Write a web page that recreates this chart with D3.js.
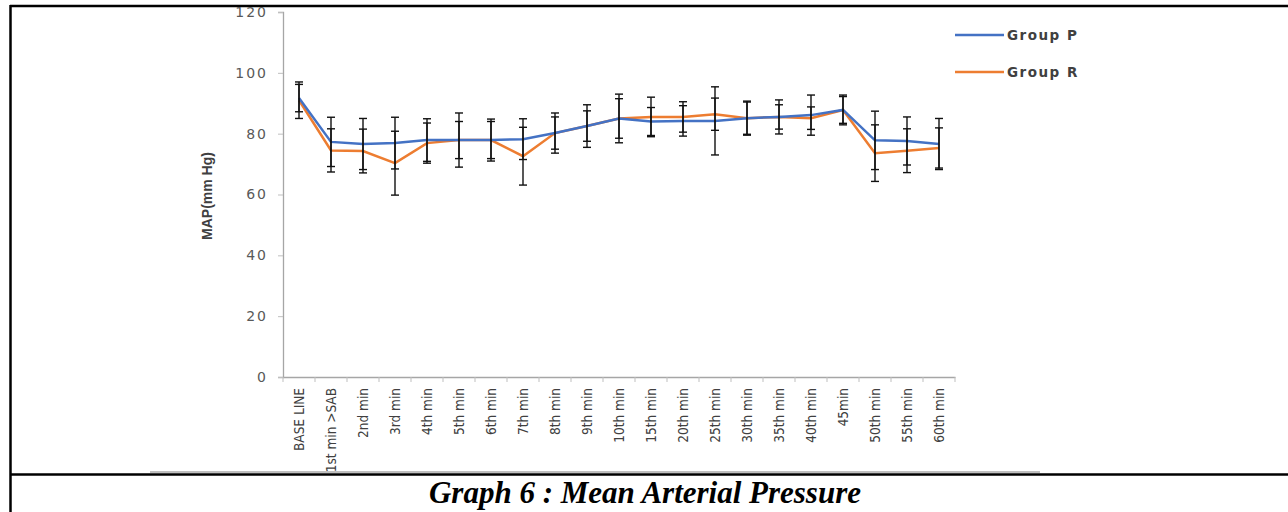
<!DOCTYPE html>
<html>
<head>
<meta charset="utf-8">
<script src="https://cdn.jsdelivr.net/npm/d3@7"></script>
<style>
  body { margin: 0; background: #fff; }
</style>
</head>
<body>
<div id="chart"></div>
<script>
const categories = ['BASE LINE', '1st min >SAB', '2nd min', '3rd min', '4th min', '5th min', '6th min',
  '7th min', '8th min', '9th min', '10th min', '15th min', '20th min', '25th min', '30th min',
  '35th min', '40th min', '45min', '50th min', '55th min', '60th min'];
const groupP = [91.7, 77.3, 76.6, 76.9, 77.9, 77.9, 77.9, 78.2, 80.2, 82.5, 85.0, 84.0, 84.2, 84.2, 85.1, 85.5, 86.1, 87.8, 77.8, 77.6, 76.6];
const groupR = [91.0, 74.5, 74.3, 70.3, 76.9, 77.9, 77.9, 72.6, 80.2, 82.5, 85.0, 85.5, 85.5, 86.4, 85.1, 85.5, 85.1, 87.8, 73.6, 74.4, 75.3];
const sdP = [4.5, 8.1, 8.4, 8.5, 7.0, 8.9, 6.9, 6.7, 6.6, 7.0, 8.0, 4.6, 5.0, 11.2, 5.6, 5.6, 6.6, 4.9, 9.6, 7.9, 8.4];
const sdR = [6.0, 7.1, 7.2, 10.5, 6.6, 6.1, 6.1, 9.5, 5.3, 5.0, 6.5, 6.5, 5.0, 5.3, 5.3, 4.0, 3.7, 4.4, 9.3, 7.2, 6.6];
const yTicks = [0, 20, 40, 60, 80, 100, 120];
const seriesNames = ['Group P', 'Group R'];

const width = 1288, height = 512;
const blue = '#4472C4', orange = '#ED7D31';

const svg = d3.select('#chart').append('svg')
  .attr('width', width)
  .attr('height', height);

// table frame
svg.append('line').attr('x1', 10).attr('x2', width).attr('y1', 6).attr('y2', 6)
  .attr('stroke', '#000').attr('stroke-width', 2.5);
svg.append('line').attr('x1', 10.5).attr('x2', 10.5).attr('y1', 5).attr('y2', height)
  .attr('stroke', '#000').attr('stroke-width', 2.5);
svg.append('line').attr('x1', 150).attr('x2', 1040).attr('y1', 472).attr('y2', 472)
  .attr('stroke', '#aaa').attr('stroke-width', 1.5);
svg.append('line').attr('x1', 10).attr('x2', width).attr('y1', 474.5).attr('y2', 474.5)
  .attr('stroke', '#000').attr('stroke-width', 2.5);

svg.append('text')
  .attr('x', 645).attr('y', 503)
  .attr('text-anchor', 'middle')
  .attr('font-family', '"Liberation Serif", "Times New Roman", serif')
  .attr('font-weight', 'bold').attr('font-style', 'italic')
  .attr('font-size', 31)
  .text('Graph 6 : Mean Arterial Pressure');

// scales
const x = d3.scaleBand().domain(categories).range([283, 955]);
const y = d3.scaleLinear().domain([0, 120]).range([377, 12]);
const cx = d => x(d) + x.bandwidth() / 2;

// y axis
const yAxis = svg.append('g')
  .attr('transform', 'translate(283,0)')
  .call(d3.axisLeft(y).tickValues(yTicks).tickSize(5).tickPadding(10));
yAxis.select('.domain').attr('stroke', '#a6a6a6').attr('stroke-width', 1.3);
yAxis.selectAll('.tick line').attr('stroke', '#bfbfbf');
yAxis.selectAll('.tick text')
  .attr('fill', '#595959')
  .attr('font-family', '"DejaVu Sans", sans-serif')
  .attr('font-size', 14)
  .attr('letter-spacing', 2);

svg.append('text')
  .attr('transform', 'translate(212,196) rotate(-90)')
  .attr('text-anchor', 'middle')
  .attr('fill', '#404040')
  .attr('font-family', '"Liberation Sans", Arial, sans-serif')
  .attr('font-weight', 'bold')
  .attr('font-size', 14)
  .text('MAP(mm Hg)');

// x axis
const xAxis = svg.append('g')
  .attr('transform', 'translate(0,377)')
  .call(d3.axisBottom(x).tickSize(0).tickPadding(0));
xAxis.select('.domain').attr('stroke', '#a6a6a6').attr('stroke-width', 1.3);
xAxis.selectAll('.tick text')
  .attr('transform', 'rotate(-90)')
  .attr('text-anchor', 'end')
  .attr('dy', '0.35em')
  .attr('x', -11)
  .attr('y', 0)
  .attr('fill', '#404040')
  .attr('font-family', '"Liberation Sans Narrow", "DejaVu Sans Condensed", sans-serif')
  .attr('font-size', 13.5);
xAxis.selectAll('.bound')
  .data(d3.range(categories.length + 1))
  .join('line')
    .attr('class', 'bound')
    .attr('x1', i => x.range()[0] + i * x.step())
    .attr('x2', i => x.range()[0] + i * x.step())
    .attr('y1', 0).attr('y2', 5)
    .attr('stroke', '#bfbfbf');

// lines
const line = d3.line().x((d, i) => cx(categories[i])).y(d => y(d));
svg.append('path').datum(groupR)
  .attr('d', line).attr('fill', 'none')
  .attr('stroke', orange).attr('stroke-width', 2.5);
svg.append('path').datum(groupP)
  .attr('d', line).attr('fill', 'none')
  .attr('stroke', blue).attr('stroke-width', 2.5);

// error bars
function errorBars(vals, sds) {
  const g = svg.append('g').attr('stroke', '#111').attr('stroke-width', 1.4);
  vals.forEach((v, i) => {
    const px = cx(categories[i]);
    const lo = y(v - sds[i]), hi = y(v + sds[i]);
    g.append('line').attr('x1', px).attr('x2', px).attr('y1', lo).attr('y2', hi);
    g.append('line').attr('x1', px - 4).attr('x2', px + 4).attr('y1', lo).attr('y2', lo);
    g.append('line').attr('x1', px - 4).attr('x2', px + 4).attr('y1', hi).attr('y2', hi);
  });
}
errorBars(groupP, sdP);
errorBars(groupR, sdR);

// legend
const legend = svg.append('g');
[blue, orange].forEach((c, i) => {
  const ly = 35 + i * 37;
  legend.append('line').attr('x1', 955).attr('x2', 1004).attr('y1', ly).attr('y2', ly)
    .attr('stroke', c).attr('stroke-width', 2.5);
  legend.append('text').attr('x', 1007).attr('y', ly).attr('dy', '0.35em')
    .attr('fill', '#404040')
    .attr('font-family', '"DejaVu Sans", sans-serif')
    .attr('font-weight', 'bold')
    .attr('font-size', 13.5)
    .attr('letter-spacing', 1.5)
    .text(seriesNames[i]);
});
</script>
</body>
</html>
